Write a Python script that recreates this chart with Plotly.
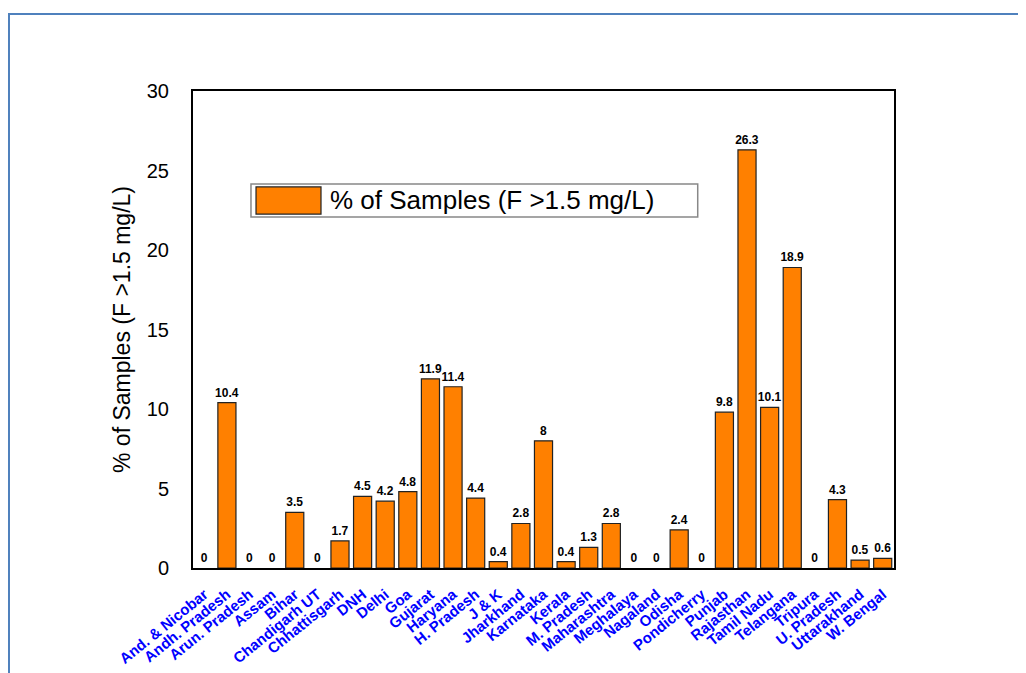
import plotly.graph_objects as go

states = ["And. & Nicobar", "Andh. Pradesh", "Arun. Pradesh", "Assam", "Bihar",
          "Chandigarh UT", "Chhattisgarh", "DNH", "Delhi", "Goa", "Gujarat",
          "Haryana", "H. Pradesh", "J & K", "Jharkhand", "Karnataka", "Kerala",
          "M. Pradesh", "Maharashtra", "Meghalaya", "Nagaland", "Odisha",
          "Pondicherry", "Punjab", "Rajasthan", "Tamil Nadu", "Telangana",
          "Tripura", "U. Pradesh", "Uttarakhand", "W. Bengal"]
pct_samples = [0, 10.4, 0, 0, 3.5, 0, 1.7, 4.5, 4.2, 4.8, 11.9,
               11.4, 4.4, 0.4, 2.8, 8, 0.4, 1.3, 2.8, 0, 0, 2.4,
               0, 9.8, 26.3, 10.1, 18.9, 0, 4.3, 0.5, 0.6]
y_ticks = [0, 5, 10, 15, 20, 25, 30]
series_name = "% of Samples (F >1.5 mg/L)"

fig = go.Figure()
fig.add_trace(go.Bar(
    x=states, y=pct_samples, name=series_name,
    marker=dict(color="#FF8000",
                line=dict(color="#222222", width=[0 if v == 0 else 1.2 for v in pct_samples])),
    text=[f"{v:g}" for v in pct_samples], textposition="outside",
    constraintext="none",
    textfont=dict(family="Liberation Sans, Arial", size=12, color="black", weight="bold"),
    cliponaxis=False, showlegend=False,
))

# legend drawn manually (large swatch like the original)
fig.add_shape(type="rect", xref="paper", yref="paper", x0=0.0827, x1=0.720, y0=0.736, y1=0.805,
              line=dict(color="#888888", width=1.5), fillcolor="white")
fig.add_shape(type="rect", xref="paper", yref="paper", x0=0.0899, x1=0.1826, y0=0.742, y1=0.799,
              line=dict(color="#222222", width=1.2), fillcolor="#FF8000")
fig.add_annotation(xref="paper", yref="paper", x=0.193, y=0.7705, xanchor="left", yanchor="middle",
                   text=series_name, showarrow=False,
                   font=dict(family="Liberation Sans, Arial", size=26, color="black"))

# outer blue frame
fig.add_shape(type="rect", xref="paper", yref="paper", x0=-0.2625, x1=1.2, y0=-0.25, y1=1.1614,
              line=dict(color="#4F81BD", width=2), fillcolor="rgba(0,0,0,0)", layer="below")

fig.update_layout(
    width=1026, height=673,
    margin=dict(l=185, r=140, t=83, b=113, autoexpand=False),
    paper_bgcolor="white", plot_bgcolor="white",
    bargap=0.2,
    font=dict(family="Liberation Sans, Arial", color="black"),
    xaxis=dict(tickangle=-39, tickfont=dict(size=15, color="#0000FF", weight="bold"),
               showline=True, linecolor="black", linewidth=2, mirror=True,
               ticks="", showgrid=False, automargin=False, ticklabelstandoff=10),
    yaxis=dict(range=[0, 30], tickvals=y_ticks, tickfont=dict(size=20, color="black"),
               showline=True, linecolor="black", linewidth=2, mirror=True,
               ticks="", showgrid=False, zeroline=False, ticklabelstandoff=18,
               automargin=False,
               title=dict(text=series_name, font=dict(size=23, color="black"), standoff=10)),
)

fig.write_html("out.html")
